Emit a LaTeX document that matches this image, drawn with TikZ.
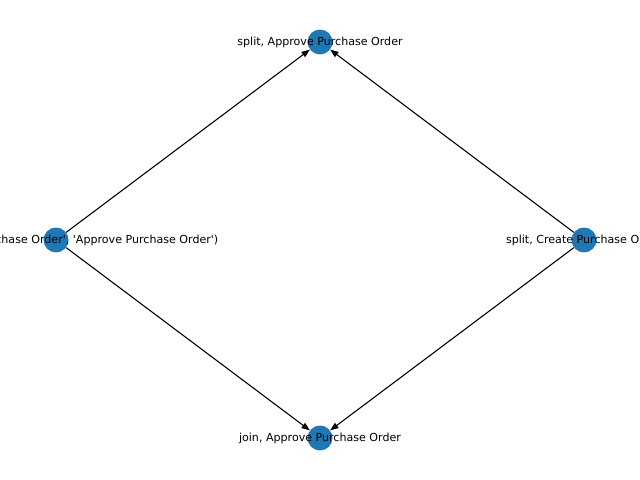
\documentclass[tikz,border=0pt]{standalone}
\usepackage{fontspec}
\setmainfont{DejaVu Sans}
\usetikzlibrary{arrows.meta}

\definecolor{nodeblue}{HTML}{1F77B4}

\begin{document}
\begin{tikzpicture}[
	x=0.01in, y=-0.01in, % pixel grid, y pointing down
	>={Triangle[length=6pt, width=4.5pt]},
	% Style for Nodes
	state/.style={
		circle,
		fill=nodeblue,
		inner sep=0pt,
		minimum size=18pt
	},
	tag/.style={font=\fontsize{8}{9.6}\selectfont, inner sep=0pt},
	% Arrow Styles
	edge/.style={->, draw=black, line width=0.75pt}
	]
	
	% --- CANVAS ---
	\useasboundingbox (0,0) rectangle (640,480);
	\clip (0,0) rectangle (640,480);
	
	% --- NODES ---
	\node[state] (ApproveSplit) at (320,42) {};
	\node[state] (PairAC) at (56,240) {};
	\node[state] (CreateSplit) at (584,240) {};
	\node[state] (ApproveJoin) at (320,438) {};
	
	% --- CONNECTIONS ---
	\draw[edge] (PairAC) -- (ApproveSplit);
	\draw[edge] (CreateSplit) -- (ApproveSplit);
	\draw[edge] (PairAC) -- (ApproveJoin);
	\draw[edge] (CreateSplit) -- (ApproveJoin);
	
	% --- LABELS ---
	\node[tag] (ApproveSplitText) at (ApproveSplit) {split, Approve Purchase Order};
	\node[tag, anchor=east] (PairACText) at ([xshift=117.4pt]PairAC) {(\textquotesingle Create Purchase Order\textquotesingle, \textquotesingle Approve Purchase Order\textquotesingle)};
	\node[tag] (CreateSplitText) at (CreateSplit) {split, Create Purchase Order};
	\node[tag] (ApproveJoinText) at (ApproveJoin) {join, Approve Purchase Order};
	
\end{tikzpicture}
\end{document}
